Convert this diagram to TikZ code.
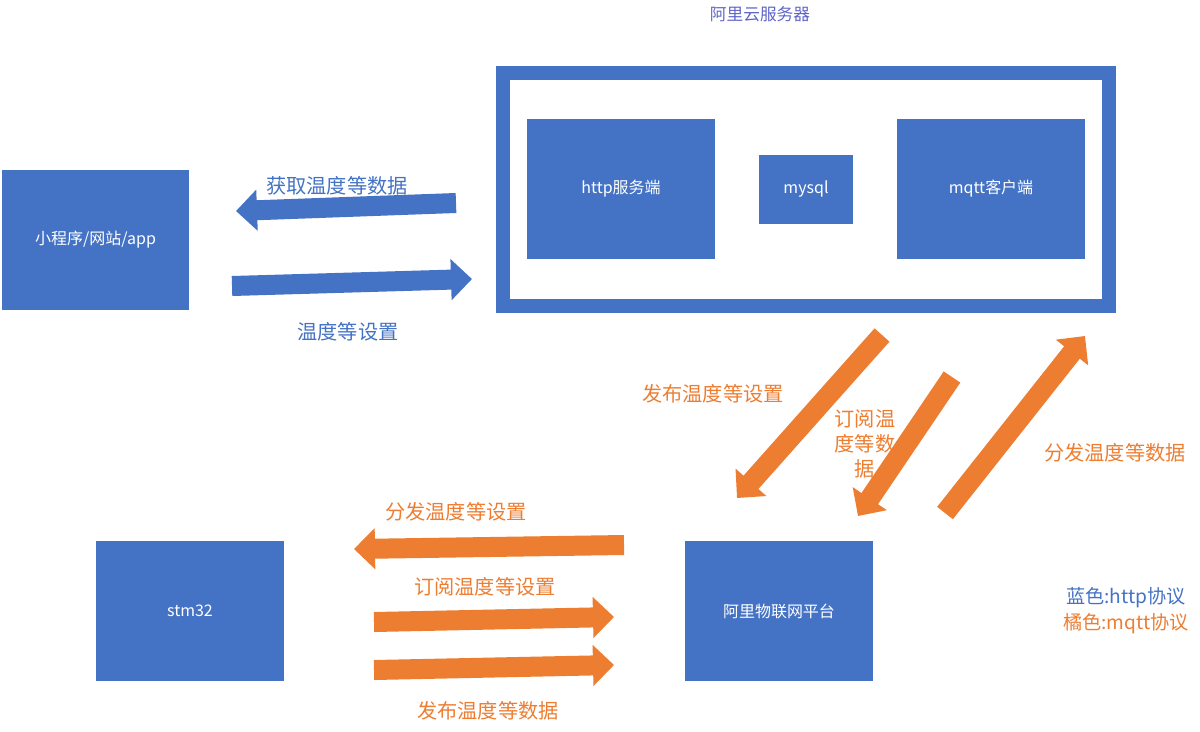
\documentclass[tikz,border=0pt]{standalone}
\usepackage{fontspec}
\setmainfont{Noto Sans CJK SC}
\usetikzlibrary{arrows.meta}
\definecolor{blu}{HTML}{4472C4}
\definecolor{ora}{HTML}{ED7D31}
\definecolor{ttl}{RGB}{95,100,200}
\tikzset{
  box/.style={fill=blu, draw=none, text=white, font=\fontsize{9.1}{11}\selectfont, inner sep=0pt},
  lbl/.style={font=\fontsize{11.5}{13}\selectfont, inner sep=0pt},
  bigarrow/.style={line width=0.4cm, -{Triangle[length=0.42cm,width=0.8cm]}},
  barrow/.style={bigarrow, draw=blu},
  oarrow/.style={bigarrow, draw=ora}
}
\begin{document}
\begin{tikzpicture}[x=0.02cm,y=-0.02cm]
\useasboundingbox (0,0) rectangle (1200,731);
% server frame
\node[draw=blu, line width=0.28cm, minimum width=12.12cm, minimum height=4.66cm, inner sep=0pt] (srv) at (806,189.5) {};
\node[lbl, text=ttl, font=\fontsize{9.5}{11}\selectfont] (srvt) at (760,14) {阿里云服务器};
\node[box, minimum width=3.76cm, minimum height=2.8cm] (app) at (95.5,240) {小程序/网站/app};
\node[box, minimum width=3.76cm, minimum height=2.8cm] (http) at (621,189) {http服务端};
\node[box, minimum width=1.88cm, minimum height=1.38cm] (sql) at (806,189.5) {mysql};
\node[box, minimum width=3.76cm, minimum height=2.8cm] (mqtt) at (991,189) {mqtt客户端};
\node[box, minimum width=3.76cm, minimum height=2.8cm] (stm) at (190,611) {stm32};
\node[box, minimum width=3.76cm, minimum height=2.8cm] (iot) at (779,611) {阿里物联网平台};
% blue arrows
\coordinate (b1s) at (456,203); \coordinate (b1e) at (236,211);
\coordinate (b2s) at (232,286); \coordinate (b2e) at (472,279);
\draw[barrow] (b1s) -- (b1e);
\draw[barrow] (b2s) -- (b2e);
\node[lbl, text=blu] (l1) at (337,186) {获取温度等数据};
\node[lbl, text=blu] (l2) at (348,332) {温度等设置};
% orange diagonal arrows
\coordinate (o1s) at (882,335); \coordinate (o1e) at (737,498);
\coordinate (o2s) at (952,377); \coordinate (o2e) at (858,516);
\coordinate (o3s) at (945,513); \coordinate (o3e) at (1085,336);
\draw[oarrow] (o1s) -- (o1e);
\draw[oarrow] (o2s) -- (o2e);
\draw[oarrow] (o3s) -- (o3e);
\node[lbl, text=ora] (l3) at (713,394) {发布温度等设置};
\node[lbl, text=ora, align=center, font=\fontsize{11.5}{14}\selectfont] (l4) at (865,444) {订阅温\\度等数\\据};
\node[lbl, text=ora] (l5) at (1115,453) {分发温度等数据};
% bottom orange arrows
\coordinate (o4s) at (624,545); \coordinate (o4e) at (354,549);
\coordinate (o5s) at (374,622); \coordinate (o5e) at (614,617);
\coordinate (o6s) at (374,670); \coordinate (o6e) at (614,665);
\draw[oarrow] (o4s) -- (o4e);
\draw[oarrow] (o5s) -- (o5e);
\draw[oarrow] (o6s) -- (o6e);
\node[lbl, text=ora] (l6) at (456,512) {分发温度等设置};
\node[lbl, text=ora] (l7) at (485,587) {订阅温度等设置};
\node[lbl, text=ora] (l8) at (488,711) {发布温度等数据};
% legend
\node[lbl, text=blu, font=\fontsize{10.9}{13}\selectfont] (lg1) at (1126,598) {蓝色:http协议};
\node[lbl, text=ora, font=\fontsize{10.9}{13}\selectfont] (lg2) at (1126,624) {橘色:mqtt协议};
\end{tikzpicture}
\end{document}
